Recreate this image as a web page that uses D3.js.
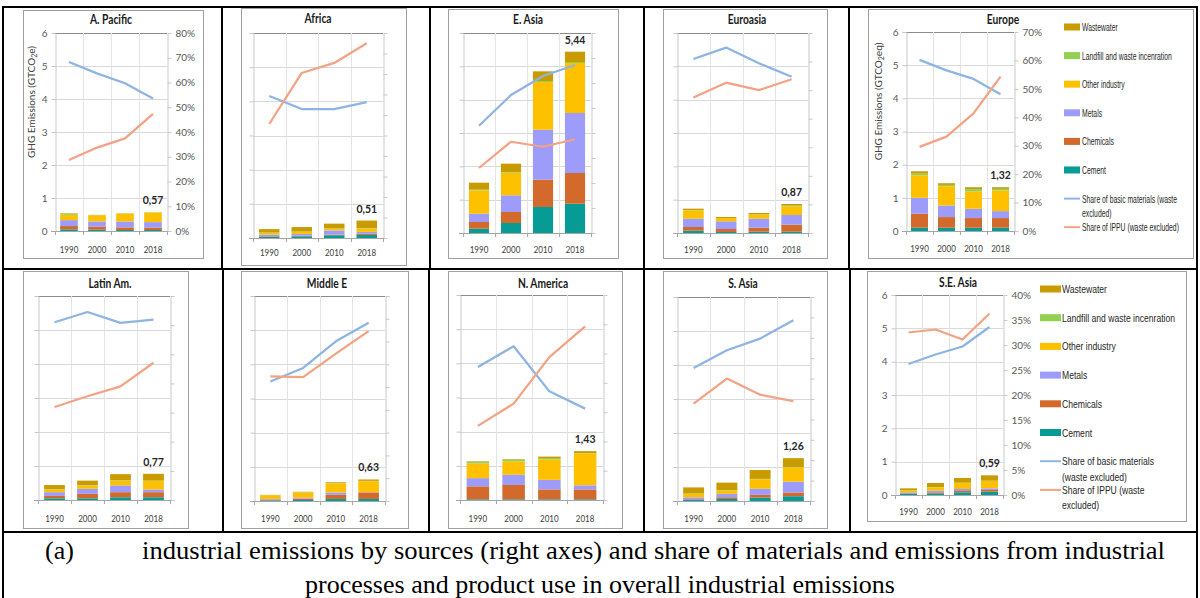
<!DOCTYPE html>
<html><head><meta charset="utf-8">
<script src="https://cdn.jsdelivr.net/npm/d3@7"></script>
<style>
body{margin:0;background:#fff;}
svg{display:block;font-family:Lato,"Liberation Sans",Arial,sans-serif;}
</style></head><body>
<svg id="c" width="1200" height="598"></svg>
<script>
// ---------------- DATA ----------------
const regions = ["A. Pacific","Africa","E. Asia","Euroasia","Europe","Latin Am.","Middle E","N. America","S. Asia","S.E. Asia"];
const years = ["1990","2000","2010","2018"];
const seriesNames = ["Cement","Chemicals","Metals","Other industry","Landfill and waste incenration","Wastewater"];
const lineNames = ["Share of basic materials (waste excluded)","Share of IPPU (waste excluded)"];
// GHG emissions, GtCO2eq (rows = regions, cols = years)
const cement = [
 [0.05,0.04,0.03,0.03],[0.03,0.05,0.08,0.09],[0.13,0.30,0.78,0.88],[0.07,0.03,0.04,0.04],[0.10,0.10,0.10,0.10],
 [0.05,0.05,0.08,0.08],[0.02,0.03,0.06,0.06],[0.02,0.02,0.02,0.02],[0.03,0.06,0.10,0.14],[0.03,0.05,0.08,0.10]];
const chemicals = [
 [0.10,0.09,0.08,0.07],[0.02,0.02,0.02,0.04],[0.20,0.33,0.82,0.92],[0.11,0.09,0.12,0.21],[0.42,0.32,0.29,0.29],
 [0.07,0.13,0.15,0.15],[0.02,0.04,0.12,0.19],[0.38,0.42,0.29,0.29],[0.02,0.05,0.08,0.11],[0.02,0.03,0.04,0.05]];
const metals = [
 [0.18,0.16,0.18,0.17],[0.05,0.05,0.12,0.05],[0.25,0.50,1.50,1.80],[0.25,0.23,0.27,0.29],[0.48,0.35,0.28,0.21],
 [0.11,0.15,0.20,0.08],[0.02,0.03,0.07,0.01],[0.24,0.30,0.28,0.12],[0.06,0.10,0.18,0.32],[0.03,0.05,0.06,0.05]];
const otherIndustry = [
 [0.16,0.19,0.24,0.29],[0.05,0.06,0.05,0.10],[0.70,0.68,1.43,1.50],[0.25,0.10,0.12,0.26],[0.68,0.58,0.52,0.62],
 [0.08,0.10,0.14,0.25],[0.11,0.15,0.27,0.32],[0.43,0.39,0.60,0.93],[0.10,0.10,0.28,0.42],[0.05,0.10,0.18,0.22]];
const landfill = [
 [0.04,0.01,0.01,0.01],[0.01,0.01,0.01,0.01],[0.02,0.02,0.03,0.03],[0.01,0.00,0.01,0.02],[0.05,0.04,0.07,0.05],
 [0.01,0.01,0.01,0.01],[0.005,0.01,0.01,0.01],[0.04,0.04,0.04,0.01],[0.01,0.01,0.01,0.01],[0.01,0.01,0.01,0.01]];
const wastewater = [
 [0.01,0.00,0.00,0.00],[0.10,0.13,0.14,0.22],[0.21,0.25,0.29,0.31],[0.04,0.03,0.04,0.05],[0.07,0.05,0.06,0.05],
 [0.12,0.13,0.18,0.20],[0.005,0.01,0.02,0.04],[0.02,0.02,0.04,0.06],[0.18,0.22,0.26,0.26],[0.06,0.12,0.14,0.16]];
const totalLabels = ["0,57","0,51","5,44","0,87","1,32","0,77","0,63","1,43","1,26","0,59"];
// shares, % (right axes)
const shareBasic = [
 [68.3,63.7,59.7,53.5],[69.3,62.9,62.9,66.3],[42.9,55.2,62.8,67.2],[60.9,64.9,59.4,54.7],[60.2,56.5,53.5,48.1],
 [61.0,64.5,60.8,61.9],[52.5,58.4,70.1,78.3],[45.4,52.5,37.1,31.2],[65.2,73.9,79.6,88.6],[26.2,28.1,29.7,33.6]];
const shareIPPU = [
 [28.7,33.7,37.4,47.3],[55.6,80.5,85.4,95.0],[26.0,36.5,34.5,37.5],[47.4,52.6,50.0,53.8],[29.6,33.2,41.4,54.3],
 [31.9,35.6,39.0,47.1],[54.7,54.4,64.7,74.6],[25.3,32.9,48.8,59.3],[47.7,60.0,52.1,49.0],[32.5,33.1,31.1,36.3]];
const ghgTicks = [0,1,2,3,4,5,6];
const shareAxisMax = [80,100,80,70,70,70,90,70,100,40];
const shareAxisStep = [10,10,10,10,10,10,10,10,10,5];
const captionLines = ["industrial emissions by sources (right axes) and share of materials and emissions from industrial",
                      "processes and product use in overall industrial emissions"];

// ---------------- STYLE / LAYOUT ----------------
const seriesColors = ["#079b96","#d3692b","#9e9cfb","#ffc000","#92d050","#c89b00"];
const lineColors = ["#8eb4e3","#f3a284"];
const layout = [
 {frame:[23,10,203,258], plot:[55,33,167,231], tx:111, ty:24, xl:253, labels:true, ytitle:{x:35, sub:"e)"}},
 {frame:[241,8,406,265], plot:[253,33,383,238], tx:318, ty:23, xl:256},
 {frame:[448,9,618,258], plot:[463,33,591,233], tx:528, ty:24, xl:253},
 {frame:[663,9,827,258], plot:[677,33,808,233], tx:747, ty:24, xl:253},
 {frame:[868,9,1193,258], plot:[906,32,1014,231], tx:1003, ty:24, xl:252, labels:true, ytitle:{x:882, sub:"eq)"},
  legend:{sx:1064, sw:16, tx:1082, y0:27, dy:28.6, wrap:[5,6], wdy:14, f:0.62}},
 {frame:[23,271,188,528], plot:[38,296,170,500], tx:110, ty:288, xl:522},
 {frame:[241,271,408,528], plot:[254,296,385,501], tx:327, ty:288, xl:522},
 {frame:[448,271,622,528], plot:[460,295,603,500], tx:543, ty:288, xl:522},
 {frame:[663,271,827,528], plot:[677,297,810,501], tx:743, ty:288, xl:522},
 {frame:[867,271,1186,521], plot:[895,295,1003,495], tx:958, ty:287, xl:515, labels:true,
  legend:{sx:1040, sw:21, tx:1062, y0:289, dy:28.7, wrap:[4,4], wdy:15.5, f:0.78}}
];

const svg = d3.select("#c");
svg.append("rect").attr("width",1200).attr("height",598).attr("fill","#fff");

function condense(sel, f){
  sel.each(function(){
    const L = this.getComputedTextLength();
    if (L > 0) d3.select(this).attr("textLength", L*f).attr("lengthAdjust","spacingAndGlyphs");
  });
}

const seriesArrays = [cement, chemicals, metals, otherIndustry, landfill, wastewater];

layout.forEach((p, i) => {
  const g = svg.append("g");
  const [L, T, R, B] = p.plot;
  g.append("rect").attr("x",p.frame[0]+0.5).attr("y",p.frame[1]+0.5)
   .attr("width",p.frame[2]-p.frame[0]).attr("height",p.frame[3]-p.frame[1])
   .attr("fill","#fff").attr("stroke","#a0a0a0").attr("stroke-width",1);

  const x = d3.scaleBand().domain(years).range([L, R]).padding(0);
  const y = d3.scaleLinear().domain([0, 6]).range([B, T]);
  const y2 = d3.scaleLinear().domain([0, shareAxisMax[i]]).range([B, T]);
  const bw = x.bandwidth();

  // horizontal gridlines
  g.append("g").selectAll("line").data(ghgTicks.slice(1)).join("line")
    .attr("x1", L).attr("x2", R)
    .attr("y1", d => Math.round(y(d))+0.5).attr("y2", d => Math.round(y(d))+0.5)
    .attr("stroke", d => d === 6 ? "#8c8c8c" : "#d9d9d9").attr("stroke-width",1);
  // vertical gridlines (category boundaries)
  g.append("g").selectAll("line").data(years.slice(1)).join("line")
    .attr("x1", d => Math.round(x(d))+0.5).attr("x2", d => Math.round(x(d))+0.5)
    .attr("y1", T).attr("y2", B).attr("stroke","#e3e3e3");

  // left axis
  const la = g.append("g").attr("transform",`translate(${Math.round(L)+0.5},0)`)
    .call(d3.axisLeft(y).tickValues(ghgTicks).tickSizeInner(4).tickSizeOuter(0).tickPadding(4)
      .tickFormat(p.labels ? d3.format("d") : ""));
  la.select(".domain").attr("stroke","#c8c8c8");
  la.selectAll(".tick line").attr("stroke","#c8c8c8");
  la.selectAll("text").attr("fill","#595959").attr("font-size",10).attr("font-family","Lato, sans-serif");

  // right axis
  const st = d3.range(0, shareAxisMax[i] + shareAxisStep[i]/2, shareAxisStep[i]);
  const ra = g.append("g").attr("transform",`translate(${Math.round(R)+0.5},0)`)
    .call(d3.axisRight(y2).tickValues(st).tickSizeInner(4).tickSizeOuter(0).tickPadding(4)
      .tickFormat(p.labels ? (d => d + "%") : ""));
  ra.select(".domain").attr("stroke","#c8c8c8");
  ra.selectAll(".tick line").attr("stroke","#c8c8c8");
  ra.selectAll("text").attr("fill","#595959").attr("font-size",10).attr("font-family","Lato, sans-serif");

  // bottom axis
  g.append("line").attr("x1",L-4).attr("x2",R).attr("y1",Math.round(B)+0.5).attr("y2",Math.round(B)+0.5)
    .attr("stroke","#a6a6a6");
  g.append("g").selectAll("line").data(years.concat(["end"])).join("line")
    .attr("x1", d => Math.round(d === "end" ? R : x(d))+0.5).attr("x2", d => Math.round(d === "end" ? R : x(d))+0.5)
    .attr("y1", B).attr("y2", B+4).attr("stroke","#a6a6a6");
  const xl = g.append("g").selectAll("text").data(years).join("text")
    .attr("x", d => x(d) + bw/2).attr("y", p.xl).attr("text-anchor","middle")
    .attr("font-size",10).attr("fill","#404040").text(d => d);
  condense(xl, 0.8);

  // stacked bars
  const rows = years.map((yr, j) => {
    const o = {year: yr};
    seriesNames.forEach((s, k) => o[s] = seriesArrays[k][i][j]);
    return o;
  });
  const stacked = d3.stack().keys(seriesNames)(rows);
  g.append("g").selectAll("g").data(stacked).join("g").attr("fill", (d, k) => seriesColors[k])
    .selectAll("rect").data(d => d).join("rect")
    .attr("x", d => x(d.data.year) + bw*0.185).attr("width", bw*0.63)
    .attr("y", d => y(d[1])).attr("height", d => Math.max(0, y(d[0]) - y(d[1])));

  // total label above last bar
  const last = rows[rows.length-1];
  const tot = d3.sum(seriesNames, s => last[s]);
  g.append("text").attr("x", x(last.year) + bw/2).attr("y", y(tot) - 8).attr("text-anchor","middle")
    .attr("font-size",10.5).attr("font-weight","bold").attr("fill","#262626").text(totalLabels[i]);

  // share lines
  const line = d3.line().x((d, j) => x(years[j]) + bw/2).y(d => y2(d));
  [shareBasic, shareIPPU].forEach((arr, k) => {
    g.append("path").datum(arr[i]).attr("d", line).attr("fill","none")
      .attr("stroke", lineColors[k]).attr("stroke-width",2.25).attr("stroke-linejoin","round");
  });

  // title
  const tt = g.append("text").attr("x", p.tx).attr("y", p.ty).attr("text-anchor","middle")
    .attr("font-size",12.5).attr("font-weight","bold").attr("fill","#1a1a1a").text(regions[i]);
  condense(tt, 0.82);

  // y title
  if (p.ytitle) {
    const yc = (T + B) / 2 - 30;
    const t = g.append("text").attr("transform",`translate(${p.ytitle.x},${yc}) rotate(-90)`)
      .attr("text-anchor","middle").attr("font-size",10).attr("fill","#404040");
    t.append("tspan").text("GHG Emissions (GTCO");
    t.append("tspan").attr("font-size",7).attr("dy",2).text("2");
    t.append("tspan").attr("dy",-2).text(p.ytitle.sub);
  }

  // legend (text condensed with a horizontal scale transform)
  if (p.legend) {
    const lg = p.legend;
    const lgG = g.append("g");
    const addText = (s, yy) => lgG.append("text")
      .attr("transform", `translate(${lg.tx},${yy}) scale(${lg.f},1)`)
      .attr("font-size",11).attr("fill","#262626")
      .attr("font-family","'Liberation Sans', Arial, sans-serif").text(s);
    const order = d3.range(seriesNames.length).reverse();
    order.forEach((k, r) => {
      const yy = lg.y0 + r*lg.dy;
      lgG.append("rect").attr("x",lg.sx).attr("y",yy-3.5).attr("width",lg.sw).attr("height",7).attr("fill",seriesColors[k]);
      addText(seriesNames[k], yy+4);
    });
    lineNames.forEach((name, k) => {
      const yy = lg.y0 + (seriesNames.length + k)*lg.dy;
      lgG.append("line").attr("x1",lg.sx).attr("x2",lg.sx+lg.sw).attr("y1",yy).attr("y2",yy)
        .attr("stroke",lineColors[k]).attr("stroke-width",2);
      const words = name.split(" ");
      const parts = [words.slice(0, lg.wrap[k]).join(" "), words.slice(lg.wrap[k]).join(" ")].filter(s => s);
      parts.forEach((s, m) => addText(s, yy+4+m*lg.wdy));
    });
  }
});

// table lines
const tb = svg.append("g").attr("stroke","#000").attr("stroke-width",2);
[[2,7,1198,7],[2,269,1198,269],[2,532,1198,532],
 [3,6,3,598],[1197,6,1197,598],
 [222,7,222,269],[430,7,430,269],[644,7,644,269],[849,7,849,269],
 [223,269,223,532],[429,269,429,532],[644,269,644,532],[850,269,850,532]]
 .forEach(l => tb.append("line").attr("x1",l[0]).attr("y1",l[1]).attr("x2",l[2]).attr("y2",l[3]));

// caption
const cap = svg.append("g").attr("font-family","'Liberation Serif','Times New Roman',serif").attr("font-size",26).attr("fill","#000");
cap.append("text").attr("x",45).attr("y",559).text("(a)");
cap.append("text").attr("x",142).attr("y",559).attr("textLength",1023).attr("lengthAdjust","spacingAndGlyphs").text(captionLines[0]);
cap.append("text").attr("x",600).attr("y",593).attr("text-anchor","middle").attr("textLength",590).attr("lengthAdjust","spacingAndGlyphs").text(captionLines[1]);
</script>
</body></html>
